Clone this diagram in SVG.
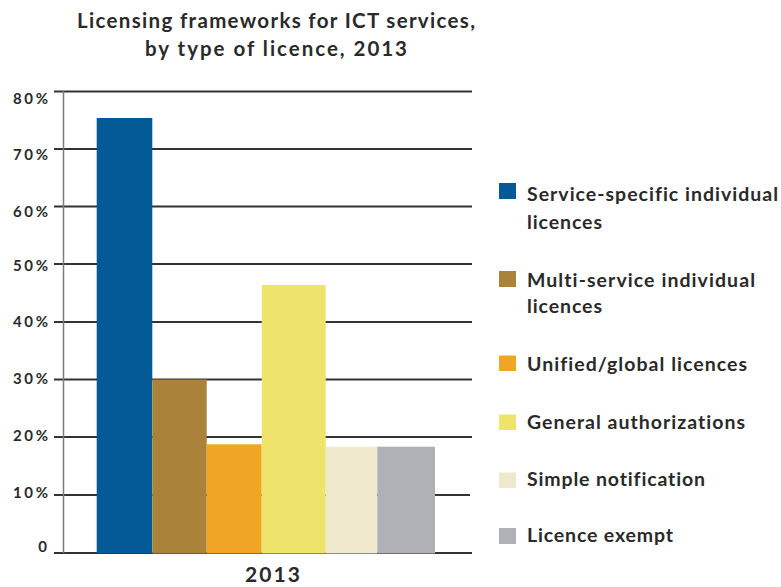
<svg xmlns="http://www.w3.org/2000/svg" width="781" height="587" viewBox="0 0 781 587">
<style>
  text { font-family: Lato, "Liberation Sans", "DejaVu Sans", sans-serif; font-weight: bold; fill: #2a2a2a; font-variant-ligatures: none; }
  .title { font-size: 20.5px; text-anchor: middle; }
  .ylab { font-size: 15px; text-anchor: end; }
  .leg { font-size: 19.5px; }
  .grid { stroke: #333; stroke-width: 2; }
  .axis { stroke: #7d7d7d; stroke-width: 1.5; }
</style>
<rect width="781" height="587" fill="#fff"/>
<g id="title">
  <text class="title" x="276" y="28" textLength="398">Licensing frameworks for ICT services,</text>
  <text class="title" x="276" y="56" textLength="262">by type of licence, 2013</text>
</g>
<g id="gridlines">
  <line class="grid" x1="54" y1="91.5" x2="472" y2="91.5"/>
  <line class="grid" x1="54" y1="149" x2="472" y2="149"/>
  <line class="grid" x1="54" y1="206.5" x2="472" y2="206.5"/>
  <line class="grid" x1="54" y1="264" x2="472" y2="264"/>
  <line class="grid" x1="54" y1="322" x2="472" y2="322"/>
  <line class="grid" x1="54" y1="379.5" x2="472" y2="379.5"/>
  <line class="grid" x1="54" y1="437" x2="472" y2="437"/>
  <line class="grid" x1="54" y1="495" x2="470" y2="495"/>
  <line class="grid" x1="54" y1="553" x2="472" y2="553"/>
  <line class="axis" x1="63.5" y1="91" x2="63.5" y2="553"/>
</g>
<g id="y-labels">
  <text class="ylab" x="48" y="104" textLength="35">80%</text>
  <text class="ylab" x="48" y="160" textLength="35">70%</text>
  <text class="ylab" x="48" y="217" textLength="35">60%</text>
  <text class="ylab" x="48" y="271" textLength="35">50%</text>
  <text class="ylab" x="48" y="327" textLength="35">40%</text>
  <text class="ylab" x="48" y="384" textLength="35">30%</text>
  <text class="ylab" x="48" y="441" textLength="35">20%</text>
  <text class="ylab" x="48" y="498" textLength="35">10%</text>
  <text class="ylab" x="47" y="552">0</text>
</g>
<g id="bars">
  <rect id="bar-service-specific" x="96.7" y="118" width="55.6" height="435.5" fill="#035A96"/>
  <rect id="bar-multi-service" x="152.3" y="379.5" width="54.4" height="174" fill="#AA8239"/>
  <rect id="bar-unified" x="206.7" y="444.3" width="55" height="109.2" fill="#F0A624"/>
  <rect id="bar-general" x="261.7" y="285" width="64" height="268.5" fill="#EFE46B"/>
  <rect id="bar-simple" x="325.7" y="446.7" width="51.6" height="106.8" fill="#EFE8CD"/>
  <rect id="bar-exempt" x="377.3" y="446.7" width="57.7" height="106.8" fill="#AFB1B7"/>
</g>
<text x="272.5" y="582" font-size="21" text-anchor="middle" textLength="55">2013</text>
<g id="legend">
  <g id="legend-service-specific">
    <rect x="499" y="183" width="17" height="16" fill="#035A96"/>
    <text class="leg" x="527" y="201" textLength="251">Service-specific individual</text>
    <text class="leg" x="527" y="229" textLength="75">licences</text>
  </g>
  <g id="legend-multi-service">
    <rect x="499" y="271" width="17" height="16" fill="#AA8239"/>
    <text class="leg" x="527" y="287" textLength="228">Multi-service individual</text>
    <text class="leg" x="527" y="313" textLength="75">licences</text>
  </g>
  <g id="legend-unified">
    <rect x="499" y="355.5" width="17" height="15.5" fill="#F0A624"/>
    <text class="leg" x="527" y="371" textLength="220">Unified/global licences</text>
  </g>
  <g id="legend-general">
    <rect x="499" y="414.5" width="17" height="15.5" fill="#EFE46B"/>
    <text class="leg" x="527" y="429" textLength="218">General authorizations</text>
  </g>
  <g id="legend-simple">
    <rect x="499" y="472.5" width="17" height="15.5" fill="#EFE8CD"/>
    <text class="leg" x="527" y="486" textLength="178">Simple notification</text>
  </g>
  <g id="legend-exempt">
    <rect x="499" y="528" width="17" height="16" fill="#AFB1B7"/>
    <text class="leg" x="527" y="542" textLength="146">Licence exempt</text>
  </g>
</g>
</svg>
